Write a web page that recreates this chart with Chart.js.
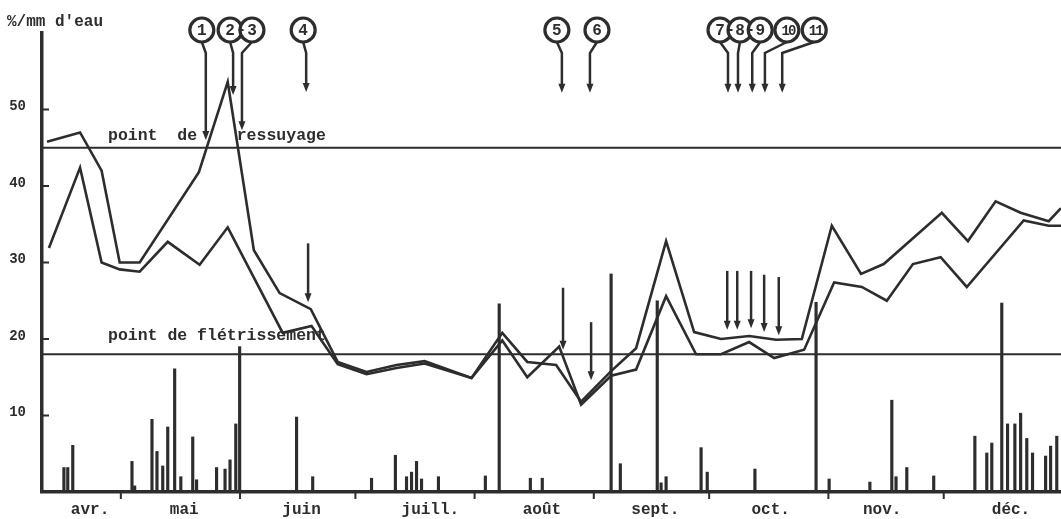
<!DOCTYPE html>
<html>
<head>
<meta charset="utf-8">
<script src="https://cdn.jsdelivr.net/npm/chart.js@4/dist/chart.umd.min.js"></script>
<style>
  html, body { margin: 0; padding: 0; background: #fff; }
  canvas { display: block; }
</style>
</head>
<body>
<canvas id="soilChart" width="1061" height="519"></canvas>
<script>
// x = jours depuis le 1er avril
const upperDays = [10.8, 19.4, 25, 29.7, 34.9, 50.3, 57.8, 64.6, 71.3, 79.4, 86.4, 93.9, 101.7, 109, 121.2, 129.2, 135.7, 143.2, 149.7, 157.5, 164, 171.8, 179.1, 186.1, 193.4, 200.4, 207.1, 214.9, 222.5, 228.4, 243.5, 250.3, 257.5, 264, 271.3, 274.5];
const upperValues = [45.8, 47, 42, 30, 30, 41.8, 53.6, 31.6, 26, 23.9, 17, 15.7, 16.6, 17.1, 14.9, 20.8, 17, 16.6, 11.8, 15.8, 18.8, 32.8, 20.9, 20, 20.4, 19.9, 20, 34.8, 28.5, 29.8, 36.5, 32.8, 38, 36.5, 35.4, 37.1];

const lowerDays = [11.3, 19.4, 25, 29.7, 34.9, 42.2, 50.5, 57.8, 72.1, 79.6, 86.4, 93.9, 101.7, 109, 121.2, 129.2, 135.7, 144, 149.7, 157.5, 164, 171.8, 179.6, 186.1, 193.4, 199.9, 207.7, 215.5, 222.7, 229.2, 236, 243.2, 250, 264.8, 271.3, 274.5];
const lowerValues = [31.9, 42.4, 30, 29.1, 28.8, 32.7, 29.7, 34.6, 20.8, 21.7, 16.7, 15.4, 16.2, 16.8, 14.9, 19.8, 15, 19, 11.4, 15.2, 16, 25.6, 18, 18, 19.6, 17.5, 18.6, 27.4, 26.8, 25, 29.8, 30.7, 26.8, 35.5, 34.8, 34.8];

// pluies / apports (mm)
const rainDays = [15.2, 16.2, 17.5, 32.9, 33.6, 38.1, 39.4, 40.9, 42.2, 44, 45.6, 48.7, 49.7, 54.9, 57.1, 58.4, 59.9, 60.9, 75.7, 79.9, 95.2, 101.4, 104.3, 105.6, 106.9, 108.2, 112.6, 124.8, 128.4, 136.5, 139.6, 157.5, 159.9, 169.5, 170.5, 171.8, 180.9, 182.5, 194.9, 210.8, 214.2, 224.8, 230.5, 231.6, 234.4, 241.4, 252.1, 255.2, 256.5, 259.1, 260.6, 262.5, 264, 265.6, 267.1, 270.5, 271.8, 273.4];
const rainValues = [3.2, 3.2, 6.1, 4, 0.8, 9.5, 5.3, 3.4, 8.5, 16.1, 2, 7.2, 1.6, 3.2, 3, 4.2, 8.9, 19, 9.8, 2, 1.8, 4.8, 2, 2.6, 4, 1.7, 2, 2.1, 24.6, 1.8, 1.8, 28.5, 3.7, 25, 1.2, 2, 5.8, 2.6, 3, 24.8, 1.7, 1.3, 12, 2, 3.2, 2.1, 7.3, 5.1, 6.4, 24.7, 8.9, 8.9, 10.3, 7, 5.1, 4.7, 6, 7.3];

const monthLabels = ["avr.", "mai", "juin", "juill.", "août", "sept.", "oct.", "nov.", "déc."];
const monthLabelDays = [22, 46.5, 77, 110.5, 139.5, 169, 199, 228, 261.5];
const monthStarts = [30, 61, 91, 122, 153, 183, 214, 244];
const yTicks = [10, 20, 30, 40, 50];

const refLevels = [45, 18];
const refLabels = ["point  de    ressuyage", "point de flétrissement"];

// interventions numérotées
const eventNumbers = ["1", "2", "3", "4", "5", "6", "7", "8", "9", "10", "11"];
const eventDays = [52.1, 59.2, 61.5, 78.2, 144.7, 152, 187.9, 190.5, 194.2, 197.5, 202];
const eventTips = [46, 51.9, 47.3, 52.3, 52.2, 52.2, 52.2, 52.2, 52.2, 52.2, 52.2];

const lowArrowDays = [78.7, 145, 152.3, 187.7, 190.3, 193.9, 197.3, 201.1];
const lowArrowFrom = [32.5, 26.7, 22.2, 28.9, 28.9, 28.9, 28.4, 28.1];
const lowArrowTo = [24.8, 18.6, 14.6, 21.2, 21.2, 21.4, 20.9, 20.5];

const INK = '#2d2d2d';
const MONO = '"Liberation Mono", "DejaVu Sans Mono", monospace';

function pts(xs, ys) {
    return xs.map((x, i) => ({ x: x, y: ys[i] }));
}

function arrowHead(ctx, x, y) {
    ctx.beginPath();
    ctx.moveTo(x, y);
    ctx.lineTo(x - 3.5, y - 9);
    ctx.lineTo(x + 3.5, y - 9);
    ctx.closePath();
    ctx.fill();
}

const extras = {
    id: 'extras',
    afterDatasetsDraw(chart) {
        const { ctx, chartArea, scales: { x, y } } = chart;
        ctx.save();
        ctx.strokeStyle = INK;
        ctx.fillStyle = INK;
        ctx.lineCap = 'butt';

        // tick marks
        ctx.lineWidth = 2;
        monthStarts.forEach(d => {
            const px = x.getPixelForValue(d);
            ctx.beginPath();
            ctx.moveTo(px, chartArea.bottom);
            ctx.lineTo(px, chartArea.bottom + 7);
            ctx.stroke();
        });
        yTicks.forEach(v => {
            const py = y.getPixelForValue(v);
            ctx.beginPath();
            ctx.moveTo(chartArea.left, py);
            ctx.lineTo(chartArea.left + 7, py);
            ctx.stroke();
        });

        // reference levels
        const labelOffsets = [8, 14];
        ctx.font = 'bold 16.5px ' + MONO;
        ctx.textAlign = 'left';
        ctx.textBaseline = 'alphabetic';
        refLevels.forEach((lvl, i) => {
            const py = y.getPixelForValue(lvl);
            ctx.lineWidth = 2;
            ctx.beginPath();
            ctx.moveTo(chartArea.left, py);
            ctx.lineTo(chartArea.right, py);
            ctx.stroke();
            ctx.fillText(refLabels[i], chartArea.left + 66, py - labelOffsets[i]);
        });

        // axis title
        ctx.font = 'bold 16px ' + MONO;
        ctx.fillText("%/mm d'eau", 7, 26);

        // circled numbers + arrows
        const circleShift = [-4, -3, 10, -3, -5, 7, -8, 2, 8, 22, 32];
        const cy = chartArea.top - 3;
        const r = 12;
        ctx.lineWidth = 2.5;
        eventDays.forEach((d, i) => {
            const ax = x.getPixelForValue(d);
            const cx = ax + circleShift[i];
            const tip = y.getPixelForValue(eventTips[i]);
            ctx.beginPath();
            ctx.moveTo(cx, cy + r);
            ctx.lineTo(ax, cy + r + 11);
            ctx.lineTo(ax, tip - 8);
            ctx.stroke();
            arrowHead(ctx, ax, tip);
        });
        eventDays.forEach((d, i) => {
            const cx = x.getPixelForValue(d) + circleShift[i];
            ctx.beginPath();
            ctx.arc(cx, cy, r, 0, Math.PI * 2);
            ctx.fillStyle = '#fff';
            ctx.fill();
            ctx.lineWidth = 3.2;
            ctx.stroke();
            ctx.fillStyle = INK;
            ctx.textAlign = 'center';
            ctx.textBaseline = 'middle';
            const two = eventNumbers[i].length > 1;
            ctx.font = (two ? 'bold 14px ' : 'bold 16px ') + MONO;
            ctx.letterSpacing = two ? '-2px' : '0px';
            ctx.fillText(eventNumbers[i], cx + (two ? 1 : 0), cy + 1);
            ctx.letterSpacing = '0px';
        });

        // petits traits entre cercles jointifs (2-3, 7-8, 8-9)
        ctx.lineWidth = 2;
        [[1, 2], [6, 7], [7, 8]].forEach(([a, b]) => {
            const xa = x.getPixelForValue(eventDays[a]) + circleShift[a];
            const xb = x.getPixelForValue(eventDays[b]) + circleShift[b];
            const mid = (xa + xb) / 2;
            ctx.beginPath();
            ctx.moveTo(mid - 2.5, cy);
            ctx.lineTo(mid + 2.5, cy);
            ctx.stroke();
        });

        // lower arrows
        ctx.lineWidth = 2.5;
        lowArrowDays.forEach((d, i) => {
            const ax = x.getPixelForValue(d);
            const top = y.getPixelForValue(lowArrowFrom[i]);
            const tip = y.getPixelForValue(lowArrowTo[i]);
            ctx.beginPath();
            ctx.moveTo(ax, top);
            ctx.lineTo(ax, tip - 8);
            ctx.stroke();
            arrowHead(ctx, ax, tip);
        });
        ctx.restore();
    }
};

document.addEventListener('DOMContentLoaded', function() {
    const ctx = document.getElementById('soilChart');

    const config = {
        type: 'line',
        data: {
            datasets: [
                {
                    type: 'line',
                    data: pts(upperDays, upperValues),
                    borderColor: INK,
                    borderWidth: 2.6,
                    pointRadius: 0,
                    tension: 0
                },
                {
                    type: 'line',
                    data: pts(lowerDays, lowerValues),
                    borderColor: INK,
                    borderWidth: 2.6,
                    pointRadius: 0,
                    tension: 0
                },
                {
                    type: 'bar',
                    data: pts(rainDays, rainValues),
                    backgroundColor: INK,
                    borderWidth: 0,
                    barThickness: 2.5,
                    grouped: false
                }
            ]
        },
        options: {
            responsive: false,
            animation: false,
            layout: { padding: { top: 33, left: 0, right: 0, bottom: 0 } },
            plugins: {
                legend: { display: false },
                tooltip: { enabled: false }
            },
            scales: {
                x: {
                    type: 'linear',
                    min: 9.5,
                    max: 274.5,
                    offset: false,
                    afterBuildTicks: s => { s.ticks = monthLabelDays.map(v => ({ value: v })); },
                    afterFit: s => { s.height = 27; },
                    grid: { drawOnChartArea: false, drawTicks: false },
                    border: { color: INK, width: 3.5 },
                    ticks: {
                        autoSkip: false,
                        maxRotation: 0,
                        padding: 8,
                        color: INK,
                        font: { family: MONO, size: 16, weight: 'bold' },
                        callback: (v, i) => monthLabels[i]
                    }
                },
                y: {
                    min: 0,
                    max: 60,
                    afterBuildTicks: s => { s.ticks = yTicks.map(v => ({ value: v })); },
                    afterFit: s => { s.width = 42; },
                    grid: { drawOnChartArea: false, drawTicks: false },
                    border: { color: INK, width: 3.5 },
                    ticks: {
                        padding: 16,
                        labelOffset: -3,
                        color: INK,
                        font: { family: MONO, size: 14, weight: 'bold' }
                    }
                }
            }
        },
        plugins: [extras]
    };

    new Chart(ctx, config);
});
</script>
</body>
</html>
